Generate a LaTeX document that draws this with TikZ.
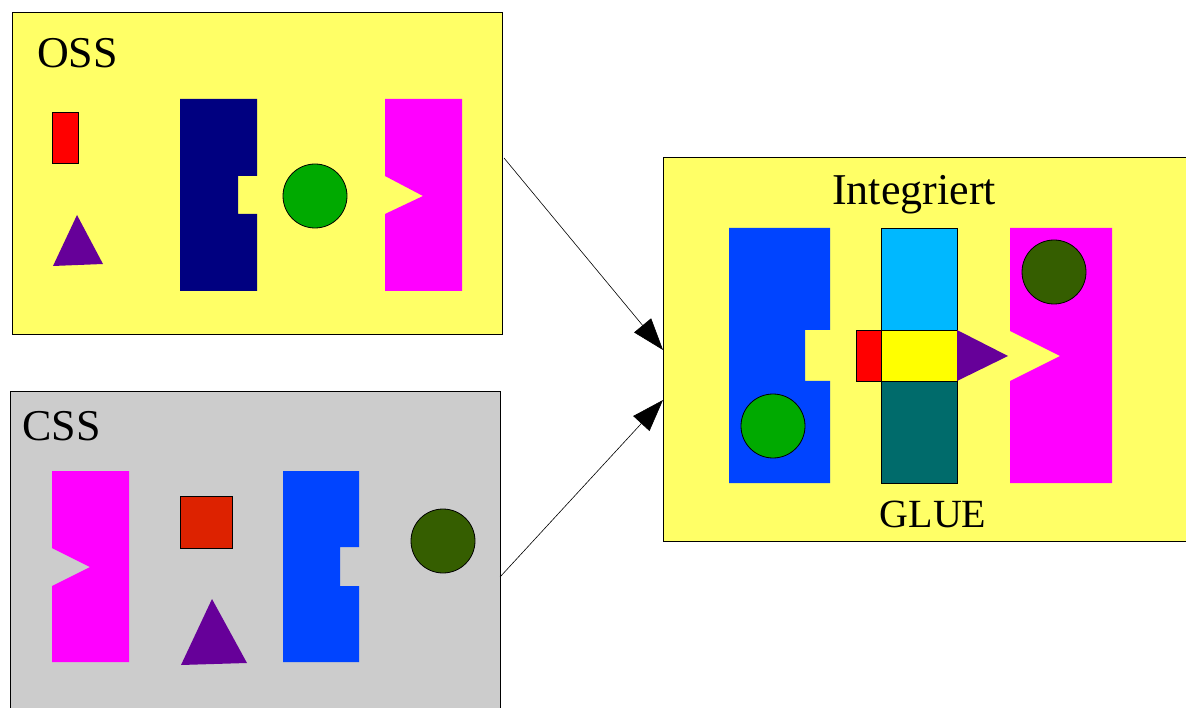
\documentclass[tikz,border=0pt]{standalone}
\usepackage{fontspec}
\setmainfont{Liberation Serif}
\usetikzlibrary{arrows.meta}

\definecolor{paneyellow}{RGB}{255,255,102}
\definecolor{panegray}{RGB}{204,204,204}
\definecolor{navyblue}{RGB}{0,0,128}
\definecolor{leafgreen}{RGB}{0,170,0}
\definecolor{olivegreen}{RGB}{53,94,0}
\definecolor{pinkish}{RGB}{255,0,255}
\definecolor{violet}{RGB}{102,0,153}
\definecolor{brightred}{RGB}{255,0,0}
\definecolor{brickred}{RGB}{221,34,0}
\definecolor{royal}{RGB}{0,68,255}
\definecolor{skyblue}{RGB}{0,184,255}
\definecolor{tealdark}{RGB}{0,107,107}
\definecolor{lemon}{RGB}{255,255,0}

\begin{document}
\begin{tikzpicture}[x=1pt,y=-1pt,
  panel/.style={draw=black, line width=0.9pt, rectangle, inner sep=0pt, anchor=north west},
  heading/.style={inner sep=0pt, font=\fontsize{44}{50}\selectfont},
  outlined/.style={draw=black, line width=0.8pt},
  flow/.style={draw=black, line width=0.6pt, -{Triangle[length=32pt,width=22pt]}}
]
\clip (0,0) rectangle (1186,708);
\fill[white] (0,0) rectangle (1186,708);

% ---- panels ----
\node[panel, fill=paneyellow, minimum width=490pt, minimum height=322pt] (oss) at (12,12) {};
\node[panel, fill=panegray, minimum width=490pt, minimum height=340pt] (css) at (10,391) {};
\node[panel, fill=paneyellow, minimum width=530pt, minimum height=384pt] (integ) at (663,157) {};

% ---- OSS contents ----
\node[heading, anchor=base west] (osslabel) at (37,68) {OSS};
\filldraw[fill=brightred, outlined] (52,112) rectangle (78,163);
\fill[violet] (77,215) -- (103,264) -- (53,266) -- cycle;
\fill[navyblue] (180,99) -- (257,99) -- (257,176) -- (238,176) -- (238,214)
  -- (257,214) -- (257,291) -- (180,291) -- cycle;
\filldraw[fill=leafgreen, outlined] (315,196) circle[radius=32pt];
\fill[pinkish] (385,99) -- (462,99) -- (462,291) -- (385,291) -- (385,214)
  -- (423,196) -- (385,176) -- cycle;

% ---- CSS contents ----
\node[heading, anchor=base west] (csslabel) at (22,440) {CSS};
\fill[pinkish] (52,471) -- (129,471) -- (129,662) -- (52,662) -- (52,586)
  -- (90,567) -- (52,548) -- cycle;
\filldraw[fill=brickred, outlined] (180,496) rectangle (232,548);
\fill[violet] (212,599) -- (247,663) -- (181,665) -- cycle;
\fill[royal] (283,471) -- (359,471) -- (359,547) -- (340,547) -- (340,586)
  -- (359,586) -- (359,662) -- (283,662) -- cycle;
\filldraw[fill=olivegreen, outlined] (443,541) circle[radius=32pt];

% ---- integrated contents ----
\node[heading, anchor=base] (integlabel) at (914,205) {Integriert};
\fill[royal] (729,228) -- (830,228) -- (830,330) -- (805,330) -- (805,381)
  -- (830,381) -- (830,483) -- (729,483) -- cycle;
\filldraw[fill=leafgreen, outlined] (773,426) circle[radius=32pt];
\filldraw[fill=skyblue, outlined] (881,228) rectangle (957,330);
\filldraw[fill=tealdark, outlined] (881,381) rectangle (957,483);
\filldraw[fill=lemon, outlined] (881,330) rectangle (957,381);
\filldraw[fill=brightred, outlined] (856,330) rectangle (881,381);
\fill[violet] (957,330) -- (1008,356) -- (957,381) -- cycle;
\fill[pinkish] (1010,228) -- (1112,228) -- (1112,483) -- (1010,483) -- (1010,381)
  -- (1060,356) -- (1010,331) -- cycle;
\filldraw[fill=olivegreen, outlined] (1054,272) circle[radius=32pt];
\node[inner sep=0pt, font=\fontsize{40}{46}\selectfont, anchor=base] (gluelabel) at (933,527) {GLUE};

% ---- connectors ----
\coordinate (ossout) at (504,158);
\coordinate (cssout) at (500,577);
\coordinate (integinA) at (663,350);
\coordinate (integinB) at (663,400);
\draw[flow] (ossout) -- (integinA);
\draw[flow] (cssout) -- (integinB);
\end{tikzpicture}
\end{document}
